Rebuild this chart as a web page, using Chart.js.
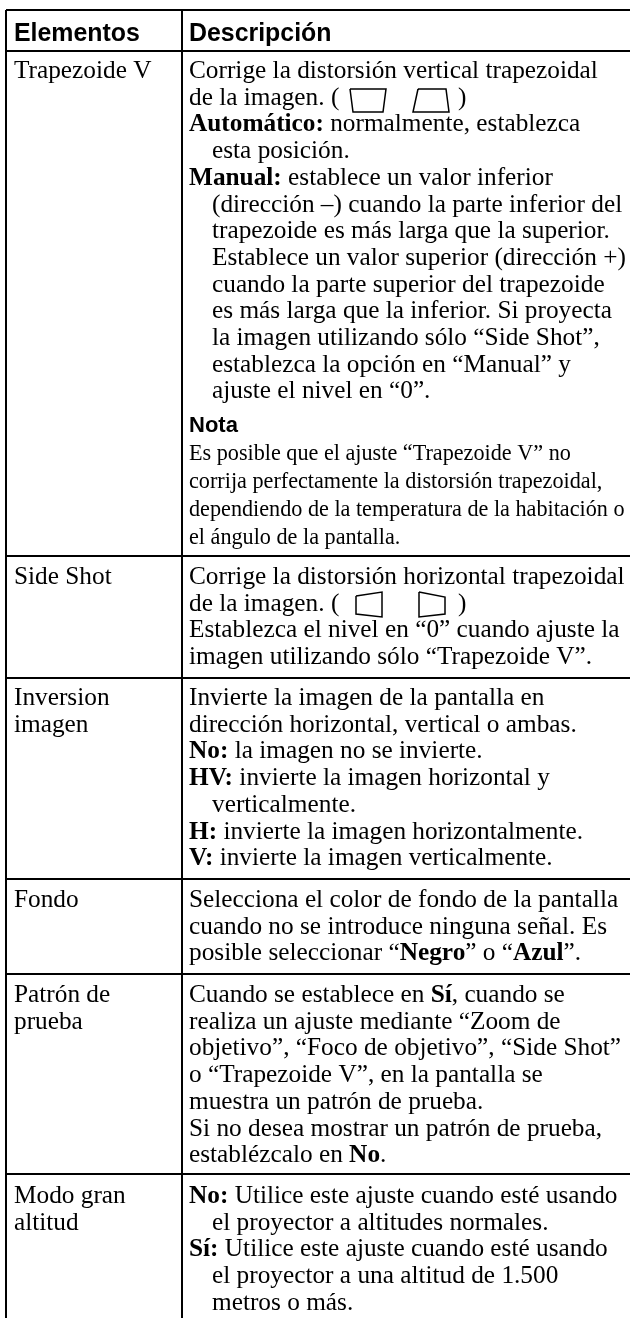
<!DOCTYPE html>
<html>
    <head>
        <title>Elementos y descripción</title>
        <script src="https://cdn.jsdelivr.net/npm/chart.js@4/dist/chart.umd.min.js"></script>
        <style>
            html, body { margin: 0; background: #fff; }
            canvas { display: block; }
        </style>
    </head>
    <body>
        <canvas id="tabla" width="630" height="1318"></canvas>
        <script type="text/javascript">
            //TEXT OF THE TABLE ( **x** = bold, > = hanging indent )
            const encabezados = ["Elementos", "Descripción"];
            const elementos = [
                ["Trapezoide V"],
                ["Side Shot"],
                ["Inversion", "imagen"],
                ["Fondo"],
                ["Patrón de", "prueba"],
                ["Modo gran", "altitud"]
            ];
            const descripciones = [
                ["Corrige la distorsión vertical trapezoidal", "de la imagen. (", "**Automático:** normalmente, establezca", ">esta posición.",
                 "**Manual:** establece un valor inferior", ">(dirección –) cuando la parte inferior del", ">trapezoide es más larga que la superior.",
                 ">Establece un valor superior (dirección +)", ">cuando la parte superior del trapezoide", ">es más larga que la inferior. Si proyecta",
                 ">la imagen utilizando sólo “Side Shot”,", ">establezca la opción en “Manual” y", ">ajuste el nivel en “0”."],
                ["Corrige la distorsión horizontal trapezoidal", "de la imagen. (", "Establezca el nivel en “0” cuando ajuste la", "imagen utilizando sólo “Trapezoide V”."],
                ["Invierte la imagen de la pantalla en", "dirección horizontal, vertical o ambas.", "**No:** la imagen no se invierte.",
                 "**HV:** invierte la imagen horizontal y", ">verticalmente.", "**H:** invierte la imagen horizontalmente.", "**V:** invierte la imagen verticalmente."],
                ["Selecciona el color de fondo de la pantalla", "cuando no se introduce ninguna señal. Es", "posible seleccionar “**Negro**” o “**Azul**”."],
                ["Cuando se establece en **Sí**, cuando se", "realiza un ajuste mediante “Zoom de", "objetivo”, “Foco de objetivo”, “Side Shot”",
                 "o “Trapezoide V”, en la pantalla se", "muestra un patrón de prueba.", "Si no desea mostrar un patrón de prueba,", "establézcalo en **No**."],
                ["**No:** Utilice este ajuste cuando esté usando", ">el proyector a altitudes normales.", "**Sí:** Utilice este ajuste cuando esté usando",
                 ">el proyector a una altitud de 1.500", ">metros o más."]
            ];
            const notaTitulo = "Nota";
            const notaLineas = ["Es posible que el ajuste “Trapezoide V” no", "corrija perfectamente la distorsión trapezoidal,",
                                "dependiendo de la temperatura de la habitación o", "el ángulo de la pantalla."];

            //TABLE RULES (axis units)
            const bordesColumna = [6, 182];
            const bordesFila = [10, 51, 556, 678, 879, 974, 1174];

            //KEYSTONE ICONS (axis units)
            const iconoV1X = [350, 386, 383, 353, 350];
            const iconoV1Y = [89, 89, 112, 112, 89];
            const iconoV2X = [418, 446, 449, 413, 418];
            const iconoV2Y = [89, 89, 112, 112, 89];
            const iconoH1X = [356, 382, 382, 356, 356];
            const iconoH1Y = [596, 592, 617, 614, 596];
            const iconoH2X = [419, 445, 445, 419, 419];
            const iconoH2Y = [592, 597, 614, 617, 592];

            //layout of the text
            const primeraBase = [78, 584, 705, 907, 1002, 1203];
            const pasoLinea = 26.7;
            const xElemento = 14;
            const xDescripcion = 189;
            const sangria = 23;
            const fuenteNormal = "25.3px 'Liberation Serif'";
            const fuenteNegrita = "bold 25.3px 'Liberation Serif'";
            const fuenteNota = "22.2px 'Liberation Serif'";
            const fuenteTitulo = "bold 24.9px 'Liberation Sans'";
            const fuenteNotaTitulo = "bold 22px 'Liberation Sans'";

            const puntos = (xs, ys) => xs.map((x, i) => ({x: x, y: ys[i]}));
            const icono = (xs, ys) => ({
                data: puntos(xs, ys),
                showLine: true,
                borderColor: "#000",
                borderWidth: 1.5,
                pointRadius: 0
            });

            // writes one line, switching font on the ** marks
            const escribir = (ctx, linea, x, y, fuente, negrita) => {
                linea.split("**").forEach((trozo, i) => {
                    ctx.font = i % 2 ? negrita : fuente;
                    ctx.fillText(trozo, x, y);
                    x += ctx.measureText(trozo).width;
                });
            };

            // text is placed through the chart's scales, same as the rules and the icons
            const textoTabla = {
                id: "textoTabla",
                afterDraw(chart) {
                    const ctx = chart.ctx;
                    const px = v => chart.scales.x.getPixelForValue(v);
                    const py = v => chart.scales.y.getPixelForValue(v);
                    ctx.save();
                    ctx.fillStyle = "#000";
                    ctx.textBaseline = "alphabetic";

                    ctx.font = fuenteTitulo;
                    ctx.fillText(encabezados[0], px(xElemento), py(41));
                    ctx.fillText(encabezados[1], px(xDescripcion), py(41));

                    elementos.forEach((lineas, fila) => {
                        lineas.forEach((linea, i) => {
                            escribir(ctx, linea, px(xElemento), py(primeraBase[fila] + i * pasoLinea), fuenteNormal, fuenteNegrita);
                        });
                    });

                    descripciones.forEach((lineas, fila) => {
                        lineas.forEach((linea, i) => {
                            const colgada = linea.startsWith(">");
                            const x = xDescripcion + (colgada ? sangria : 0);
                            escribir(ctx, linea.replace(">", ""), px(x), py(primeraBase[fila] + i * pasoLinea), fuenteNormal, fuenteNegrita);
                        });
                    });

                    // closing brackets after the icons
                    ctx.font = fuenteNormal;
                    ctx.fillText(")", px(458), py(105));
                    ctx.fillText(")", px(458), py(611));

                    ctx.font = fuenteNotaTitulo;
                    ctx.fillText(notaTitulo, px(xDescripcion), py(432));
                    notaLineas.forEach((linea, i) => {
                        ctx.font = fuenteNota;
                        ctx.fillText(linea, px(xDescripcion), py(460 + i * 28));
                    });
                    ctx.restore();
                }
            };

            new Chart(document.getElementById("tabla"), {
                type: "scatter",
                data: {
                    datasets: [
                        icono(iconoV1X, iconoV1Y),
                        icono(iconoV2X, iconoV2Y),
                        icono(iconoH1X, iconoH1Y),
                        icono(iconoH2X, iconoH2Y)
                    ]
                },
                options: {
                    responsive: false,
                    animation: false,
                    layout: {padding: {left: 6, top: 10, right: 0, bottom: 0}},
                    plugins: {legend: {display: false}, tooltip: {enabled: false}},
                    scales: {
                        // grid lines of the two axes are the rules of the table
                        x: {
                            type: "linear",
                            min: 6,
                            max: 630,
                            afterBuildTicks: axis => { axis.ticks = bordesColumna.map(v => ({value: v})); },
                            ticks: {display: false},
                            border: {display: false},
                            grid: {color: "#000", lineWidth: 2, drawTicks: false}
                        },
                        y: {
                            type: "linear",
                            reverse: true,
                            min: 10,
                            max: 1318,
                            afterBuildTicks: axis => { axis.ticks = bordesFila.map(v => ({value: v})); },
                            ticks: {display: false},
                            border: {display: false},
                            grid: {color: "#000", lineWidth: 2, drawTicks: false}
                        }
                    }
                },
                plugins: [textoTabla]
            });
        </script>
    </body>
</html>
